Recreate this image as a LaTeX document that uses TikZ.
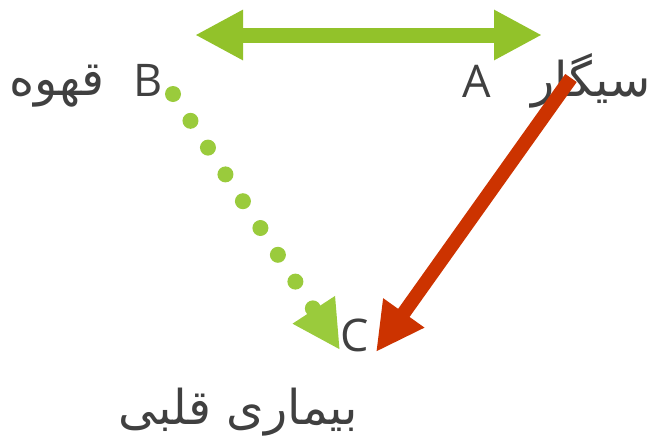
\documentclass[tikz,border=0pt]{standalone}
\usepackage{fontspec}
\usetikzlibrary{arrows.meta}
\setmainfont{Open Sans}
\newfontfamily\farsi[Script=Arabic]{DejaVu Sans}
\TeXXeTstate=1
\definecolor{leaf}{HTML}{92C22A}
\definecolor{dotgreen}{HTML}{9ACB3C}
\definecolor{brick}{HTML}{CC3300}
\definecolor{ink}{HTML}{404040}

\begin{document}
\begin{tikzpicture}[x=1pt,y=-1pt,
  lbl/.style={text=ink,font=\fontsize{45}{50}\selectfont,inner sep=0pt,anchor=base},
  fa/.style={lbl,font=\farsi\fontsize{48}{54}\selectfont},
  head/.style={-{Triangle[length=48pt,width=47pt]}}]
\useasboundingbox (0,0) rectangle (659,445);
% labels
\node[lbl] (B) at (148,96) {B};
\node[fa] (coffee) at (57,95) {\beginR قهوه\endR};
\node[lbl] (A) at (477,97) {A};
\node[fa] (smoke) at (591,96) {\beginR سیگار\endR};
\node[lbl] (C) at (355,351) {C};
\node[fa] (heart) at (238,424) {\beginR بیماری قلبی\endR};
% arrows
\coordinate (top1) at (195,35);
\coordinate (top2) at (542,35);
\draw[leaf,line width=15pt,{Triangle[length=48pt,width=47pt]}-{Triangle[length=48pt,width=47pt]}] (top1) -- (top2);
\coordinate (b0) at (173,94);
\coordinate (c0) at (340,350);
\draw[dotgreen,line width=16pt,line cap=round,dash pattern=on 0pt off 32pt,head] (b0) -- (c0);
\coordinate (a0) at (571,78);
\coordinate (c1) at (376,352);
\draw[brick,line width=14pt,head] (a0) -- (c1);
\end{tikzpicture}
\end{document}
